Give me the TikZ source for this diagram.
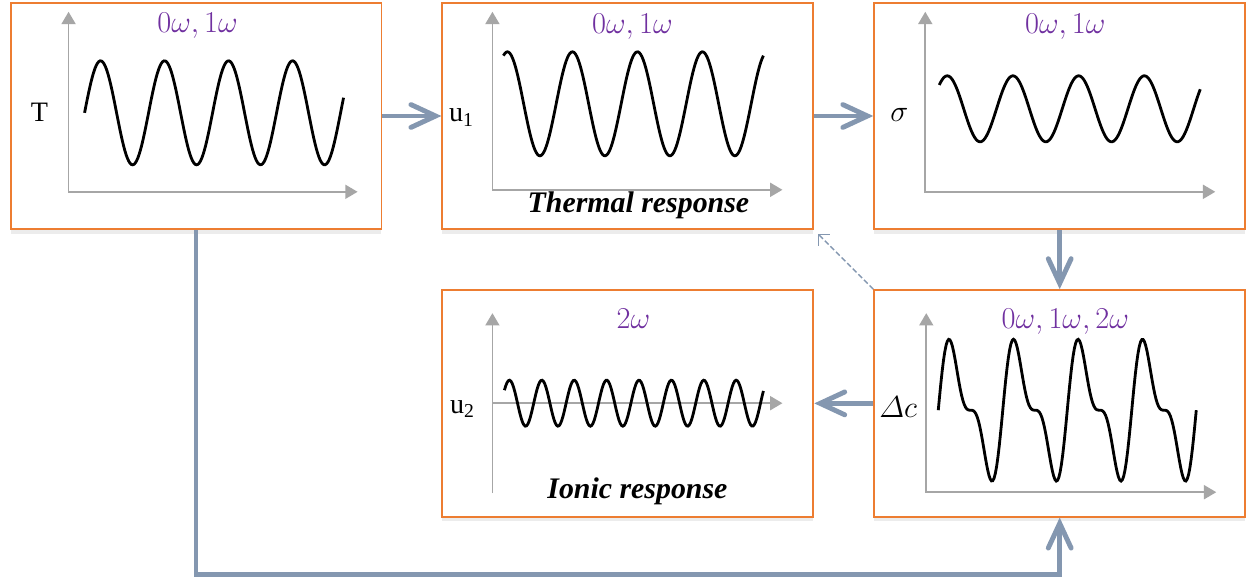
\documentclass[tikz,border=0pt]{standalone}
\usepackage{amsmath}
\usepackage[no-math]{fontspec}
\setmainfont{Liberation Serif}
\usetikzlibrary{positioning,arrows.meta,shadows}

\definecolor{boxorange}{HTML}{ED7D31}
\definecolor{flowblue}{HTML}{8497B0}
\definecolor{freqpurple}{HTML}{7030A0}
\definecolor{axisgray}{HTML}{A6A6A6}

\begin{document}
\begin{tikzpicture}[x=0.02cm, y=-0.02cm, node distance=1.18cm,
	panel/.style={draw=boxorange, line width=1.1pt, fill=white, minimum width=7.42cm, minimum height=4.53cm, inner sep=0pt,
		drop shadow={opacity=0.15, shadow xshift=0pt, shadow yshift=-2.5pt}},
	flow/.style={draw=flowblue, line width=2.8pt, -{Straight Barb[length=14pt, width=13pt, line cap=round]}},
	axes/.style={draw=axisgray, line width=0.9pt, {Triangle[length=7pt, width=8pt]}-{Triangle[length=7pt, width=8pt]}},
	axis/.style={draw=axisgray, line width=0.9pt, -{Triangle[length=7pt, width=8pt]}},
	wave/.style={line width=1.6pt, samples=200},
	freq/.style={text=freqpurple, font=\fontsize{17.5}{20}\selectfont},
	qty/.style={font=\fontsize{16}{19}\selectfont},
	resp/.style={font=\fontsize{17}{20}\selectfont\bfseries\itshape}]
	\useasboundingbox (0,0) rectangle (1248,578);

	% panels
	\node[panel] (temp) at (196,116) {};
	\node[panel, right=of temp] (therm) {};
	\node[panel, right=of therm] (stress) {};
	\node[panel, below=of stress] (conc) {};
	\node[panel, below=of therm] (ionic) {};

	% temperature
	\begin{scope}[shift={(temp.north west)}]
		\draw[axes] (59,10) |- (348,190);
		\draw[wave] plot[domain=75:334] (\x, {111-52*sin((\x-75)/64*360)});
		\node[qty] (tlab) at (30,110) {T};
		\node[freq] (tfreq) at (188,24) {$0\omega, 1\omega$};
	\end{scope}

	% thermal response
	\begin{scope}[shift={(therm.north west)}]
		\draw[axes] (51,10) |- (341,188);
		\draw[wave] plot[domain=62:322] (\x, {102-52*cos((\x-66)/65*360)});
		\node[qty] (ulab) at (20,116) {u\textsubscript{1}};
		\node[freq] (ufreq) at (191,25) {$0\omega, 1\omega$};
		\node[resp] (utxt) at (197,204) {Thermal response};
	\end{scope}

	% stress
	\begin{scope}[shift={(stress.north west)}]
		\draw[axes] (52,10) |- (342,190);
		\draw[wave] plot[domain=66:327] (\x, {107-33*cos((\x-74)/65.7*360)});
		\node[qty] (slab) at (26,113) {$\sigma$};
		\node[freq] (sfreq) at (192,25) {$0\omega, 1\omega$};
	\end{scope}

	% concentration
	\begin{scope}[shift={(conc.north west)}]
		\draw[axes] (53,24) |- (343,203);
		\draw[wave] plot[domain=65:323] (\x, {121-54.6*(-sin(180+(\x-65)/64.5*360)+0.5*sin(2*(180+(\x-65)/64.5*360)))});
		\node[qty] (clab) at (25,118) {$\varDelta c$};
		\node[freq] (cfreq) at (192,32) {$0\omega, 1\omega, 2\omega$};
	\end{scope}

	% ionic response
	\begin{scope}[shift={(ionic.north west)}]
		\draw[axis] (51,204) -- (51,24);
		\draw[axis] (51,114) -- (341,114);
		\draw[wave] plot[domain=63:322] (\x, {114-23*cos((\x-68)/32.4*360)});
		\node[qty] (ilab) at (21,120) {u\textsubscript{2}};
		\node[freq] (ifreq) at (192,30) {$2\omega$};
		\node[resp] (itxt) at (196,202) {Ionic response};
	\end{scope}

	% connectors
	\draw[flow] (temp) -- (therm);
	\draw[flow] (therm) -- (stress);
	\draw[flow] (stress) -- (conc);
	\draw[flow] (conc) -- (ionic);
	\draw[flow] (temp.south) -- ++(0,344) -| (conc.south);
	\draw[flowblue, line width=0.8pt, dash pattern=on 3pt off 1.5pt, -{Straight Barb[length=4.5pt, width=9pt]}, shorten >=3pt] (conc.north west) -- (therm.south east);
\end{tikzpicture}
\end{document}
